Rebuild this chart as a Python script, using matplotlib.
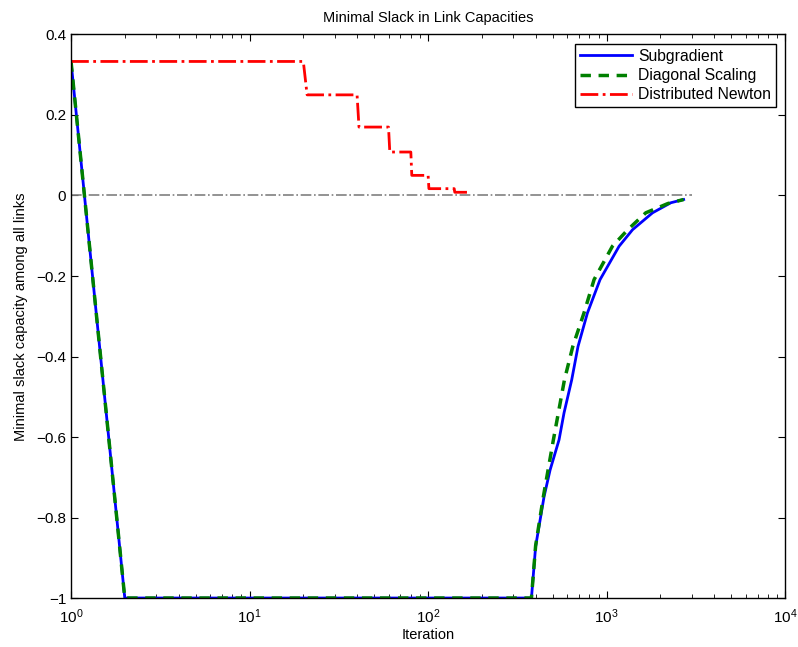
import matplotlib
matplotlib.use("Agg")
import matplotlib.pyplot as plt

plt.rcParams['font.family'] = ['Liberation Sans', 'DejaVu Sans']
plt.rcParams['mathtext.fontset'] = 'custom'
plt.rcParams['mathtext.rm'] = 'Liberation Sans'
plt.rcParams['mathtext.it'] = 'Liberation Sans:italic'

# datos
sub_iter = [1, 2, 379, 400, 446, 482, 541, 577, 637, 691, 780, 918, 1174, 1396, 1807, 2288, 2698]
sub_slack = [0.333, -1, -1, -0.872, -0.748, -0.682, -0.607, -0.54, -0.458, -0.375, -0.292,
             -0.209, -0.126, -0.085, -0.043, -0.018, -0.01]

diag_iter = [1, 2, 379, 400, 442, 503, 580, 646, 746, 850, 1077, 1313, 1656, 2200, 2698]
diag_slack = [0.333, -1, -1, -0.87, -0.748, -0.607, -0.458, -0.375, -0.292, -0.209,
              -0.126, -0.085, -0.043, -0.02, -0.01]

newton_iter = [1, 20, 21, 40, 41, 60, 61, 80, 81, 100, 101, 140, 141, 165]
newton_slack = [0.333, 0.333, 0.25, 0.25, 0.17, 0.17, 0.108, 0.108, 0.05, 0.05,
                0.017, 0.017, 0.008, 0.008]

zero_iter = [1, 3000]
zero_slack = [0, 0]

fig = plt.figure(figsize=(7.98, 6.47), dpi=100)
ax = fig.add_axes([0.089, 0.0757, 0.895, 0.871])

ax.plot(zero_iter, zero_slack, color=(0.5, 0.5, 0.5), linestyle='-.', linewidth=1.2)
ax.plot(sub_iter, sub_slack, 'b-', linewidth=2, label='Subgradient')
ax.plot(diag_iter, diag_slack, color=(0, 0.5, 0), linestyle='--', linewidth=2.5,
        dashes=(3, 2.2), label='Diagonal Scaling')
ax.plot(newton_iter, newton_slack, 'r-.', linewidth=2, label='Distributed Newton')

ax.set_xscale('log')
ax.set_xlim(1, 1e4)
ax.set_ylim(-1, 0.4)
ax.set_yticks([-1, -0.8, -0.6, -0.4, -0.2, 0, 0.2, 0.4])
ax.set_yticklabels(['\u22121', '\u22120.8', '\u22120.6', '\u22120.4', '\u22120.2', '0', '0.2', '0.4'])

ax.tick_params(which='both', direction='in', top=True, right=True, labelsize=11)
ax.tick_params(which='major', length=5)
ax.tick_params(which='minor', length=3)
ax.tick_params(axis='x', pad=7)
ax.tick_params(axis='y', which='minor', left=False, right=False)
for s in ax.spines.values():
    s.set_linewidth(1)

ax.set_title('Minimal Slack in Link Capacities', fontsize=10.5, pad=9)
ax.set_xlabel('Iteration', fontsize=10.5, labelpad=1)
ax.set_ylabel('Minimal slack capacity among all links', fontsize=10.5, labelpad=6)

leg = ax.legend(loc='upper right', fontsize=11.3, fancybox=False, framealpha=1,
                edgecolor='black', borderaxespad=0.6, handlelength=3.3,
                borderpad=0.3, labelspacing=0.28, handletextpad=0.4)
leg.get_frame().set_linewidth(1)

fig.savefig('out.png', dpi=100)
